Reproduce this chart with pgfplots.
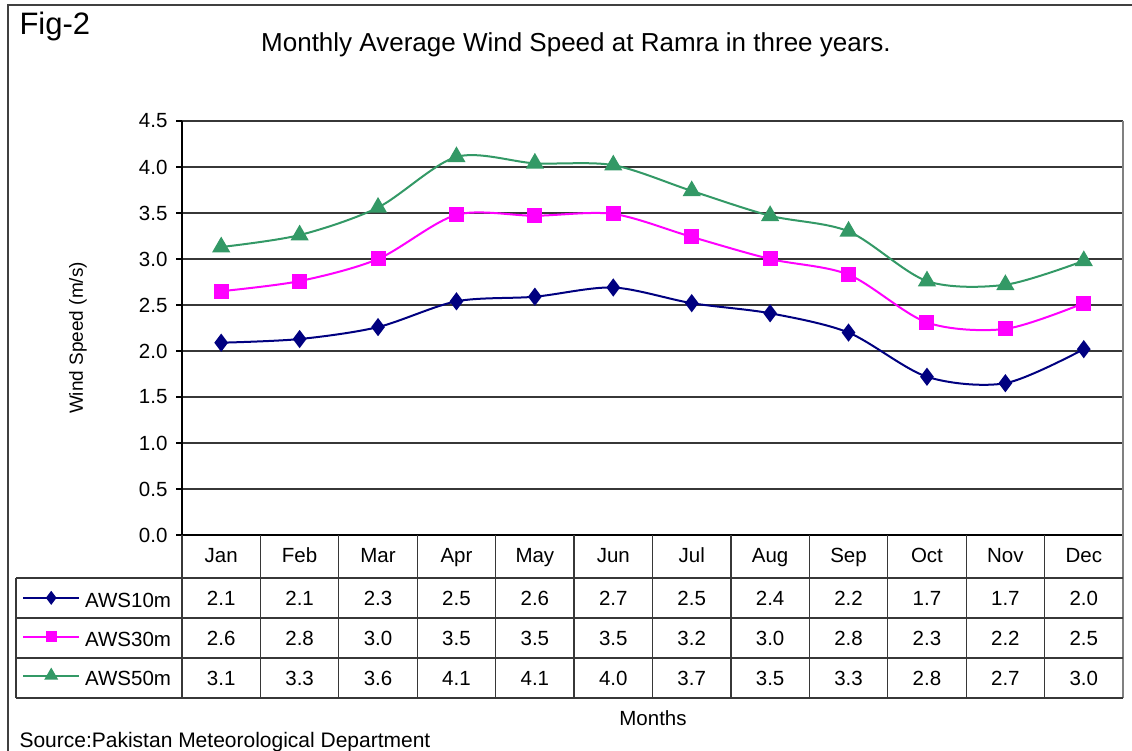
\documentclass[border=0pt]{standalone}
\usepackage{fontspec}
\setmainfont{Liberation Sans}
\usepackage{pgfplots}
\pgfplotsset{compat=1.18}
\definecolor{aws10}{RGB}{0,0,128}
\definecolor{aws30}{RGB}{255,0,255}
\definecolor{aws50}{RGB}{51,153,102}
\definecolor{gridc}{RGB}{55,55,55}
\definecolor{edgec}{RGB}{128,128,128}

\begin{document}
\begin{tikzpicture}[x=1pt,y=1pt]
\useasboundingbox (0,0) rectangle (1132,750);
\fill[white] (0,0) rectangle (1132,750);
\draw[black!75, line width=1.5pt] (8,-5) |- (1140,745);
\node[anchor=west, font=\fontsize{31}{36}\selectfont] at (16,724) {Fig-2};
\node[font=\fontsize{26}{30}\selectfont] at (576,705) {Monthly Average Wind Speed at Ramra in three years.};

\begin{axis}[
    at={(182pt,215pt)}, anchor=south west, scale only axis,
    width=941pt, height=414pt,
    xmin=0, xmax=12, ymin=0, ymax=4.5,
    xtick={0.5,1.5,...,11.5},
    xticklabels={Jan,Feb,Mar,Apr,May,Jun,Jul,Aug,Sep,Oct,Nov,Dec},
    x tick style={draw=none},
    xticklabel style={anchor=base, yshift=-21pt},
    ytick={0,0.5,...,4.5},
    yticklabel style={xshift=-5pt, /pgf/number format/fixed,
      /pgf/number format/fixed zerofill, /pgf/number format/precision=1},
    /pgf/number format/assume math mode=true,
    ytick pos=left, tick align=outside, major tick length=6pt,
    tick style={black, line width=1.2pt},
    ymajorgrids, grid style={gridc, line width=1.3pt},
    axis x line*=bottom, axis y line*=left,
    axis line style={black, line width=1.5pt},
    tick label style={font=\fontsize{20.5}{24}\selectfont},
    ylabel={Wind Speed (m/s)},
    ylabel style={at={(axis description cs:-0.1105,0.476)}, anchor=center,
      font=\fontsize{19}{23}\selectfont},
    legend style={at={(axis description cs:-0.170,-0.137)}, anchor=north west,
      draw=none, fill=none, inner sep=0pt, row sep=21pt, column sep=4pt,
      font=\fontsize{20.5}{24}\selectfont,
      nodes={inner sep=1pt}},
    legend cell align=left,
    legend image code/.code={\draw[mark repeat=2,mark phase=2,#1,
      mark options={scale=0.72}]
      plot coordinates {(0pt,3pt)(28pt,3pt)(56pt,3pt)};},
    every axis plot/.append style={line width=2pt, smooth, tension=0.5},
    clip=false,
  ]
  \addplot[aws10, mark=diamond*, mark size=7.5pt] coordinates {
    (0.5,2.09) (1.5,2.13) (2.5,2.26) (3.5,2.54) (4.5,2.59) (5.5,2.69)
    (6.5,2.52) (7.5,2.41) (8.5,2.20) (9.5,1.72) (10.5,1.65) (11.5,2.02)};
  \addlegendentry{AWS10m}
  \addplot[aws30, mark=square*, mark size=6.5pt] coordinates {
    (0.5,2.65) (1.5,2.76) (2.5,3.00) (3.5,3.48) (4.5,3.47) (5.5,3.49)
    (6.5,3.24) (7.5,3.00) (8.5,2.83) (9.5,2.31) (10.5,2.24) (11.5,2.52)};
  \addlegendentry{AWS30m}
  \addplot[aws50, mark=triangle*, mark size=8.5pt] coordinates {
    (0.5,3.13) (1.5,3.26) (2.5,3.56) (3.5,4.11) (4.5,4.04) (5.5,4.02)
    (6.5,3.74) (7.5,3.47) (8.5,3.30) (9.5,2.76) (10.5,2.72) (11.5,2.98)};
  \addlegendentry{AWS50m}
\end{axis}

% right border of plot area and data table
\draw[edgec, line width=1.5pt] (1123,629) -- (1123,52);
\begin{scope}[gridc, line width=1.2pt]
  \draw (16,172) -- (1123,172);
  \draw (16,132) -- (1123,132);
  \draw (16,92) -- (1123,92);
  \draw (16,52) -- (1123,52);
  \draw (16,172) -- (16,52);
  \foreach \k in {0,...,11} {
    \pgfmathsetmacro\xk{182+\k*941/12}
    \draw (\xk,215) -- (\xk,52);
  }
\end{scope}
\begin{scope}[font=\fontsize{20.5}{24}\selectfont]
  \foreach \a/\b/\c [count=\i] in {2.1/2.6/3.1, 2.1/2.8/3.3, 2.3/3.0/3.6,
      2.5/3.5/4.1, 2.6/3.5/4.1, 2.7/3.5/4.0, 2.5/3.2/3.7, 2.4/3.0/3.5,
      2.2/2.8/3.3, 1.7/2.3/2.8, 1.7/2.2/2.7, 2.0/2.5/3.0} {
    \pgfmathsetmacro\xc{182+(\i-0.5)*941/12}
    \node at (\xc,152) {\a};
    \node at (\xc,112) {\b};
    \node at (\xc,72) {\c};
  }
  \node at (653,32) {Months};
  \node[anchor=base west] at (16,2.5) {\fontsize{21}{24}\selectfont Source:Pakistan Meteorological Department};
\end{scope}
\end{tikzpicture}
\end{document}
